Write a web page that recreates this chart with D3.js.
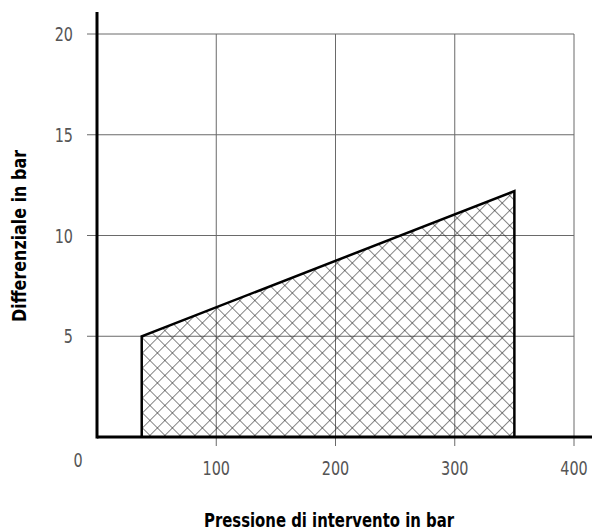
<!DOCTYPE html>
<html><head><meta charset="utf-8">
<script src="https://cdn.jsdelivr.net/npm/d3@7"></script>
<style>body{margin:0;background:#fff}svg{display:block}</style>
</head><body>
<script>
const xTicks = [100, 200, 300, 400];
const yTicks = [5, 10, 15, 20];
const areaX = [37.5, 350];
const areaLow = [5, 12.2];
const xTitle = "Pressione di intervento in bar";
const yTitle = "Differenziale in bar";

const W = 592, H = 532;
const x = d3.scaleLinear().domain([0, 400]).range([97, 574]);
const y = d3.scaleLinear().domain([0, 20]).range([437, 34]);
const svg = d3.select("body").append("svg").attr("width", W).attr("height", H);

const defs = svg.append("defs");
const pat = defs.append("pattern").attr("id", "hatch").attr("patternUnits", "userSpaceOnUse")
  .attr("width", 10.6).attr("height", 10.6).attr("patternTransform", "rotate(45)");
pat.append("line").attr("x1", 0).attr("y1", 0).attr("x2", 0).attr("y2", 10.6).attr("stroke", "#222").attr("stroke-width", 1.1);
pat.append("line").attr("x1", 0).attr("y1", 0).attr("x2", 10.6).attr("y2", 0).attr("stroke", "#222").attr("stroke-width", 1.1);

const font = "'DejaVu Sans Condensed', 'DejaVu Sans', sans-serif";

// gridlines
svg.append("g").selectAll("line").data(yTicks).join("line")
  .attr("x1", 87).attr("x2", x(400)).attr("y1", d => y(d)).attr("y2", d => y(d))
  .attr("stroke", "#6a6a6a").attr("stroke-width", 1);
svg.append("g").selectAll("line").data(xTicks).join("line")
  .attr("x1", d => x(d)).attr("x2", d => x(d)).attr("y1", y(20)).attr("y2", 446)
  .attr("stroke", "#6a6a6a").attr("stroke-width", 1);

// hatched area
const pts = [[areaX[0], 0], [areaX[0], areaLow[0]], [areaX[1], areaLow[1]], [areaX[1], 0]];
svg.append("path").attr("d", d3.line().x(d => x(d[0])).y(d => y(d[1]))(pts))
  .attr("fill", "url(#hatch)").attr("stroke", "#000").attr("stroke-width", 2.5).attr("stroke-linejoin", "miter");

// axes
svg.append("line").attr("x1", x(0)).attr("x2", W).attr("y1", y(0)).attr("y2", y(0)).attr("stroke", "#000").attr("stroke-width", 3);
svg.append("line").attr("x1", x(0)).attr("x2", x(0)).attr("y1", 12).attr("y2", y(0) + 1.5).attr("stroke", "#000").attr("stroke-width", 3);

// tick labels (condensed look via horizontal scale)
const sx = 0.8;
svg.append("g").selectAll("text").data(yTicks).join("text")
  .attr("transform", d => `translate(73,${y(d)}) scale(${sx},1)`).attr("dy", "0.36em").attr("text-anchor", "end")
  .attr("font-family", font).attr("font-size", 20).attr("fill", "#555").text(d => d);
svg.append("g").selectAll("text").data(xTicks).join("text")
  .attr("transform", d => `translate(${x(d)},468) scale(${sx},1)`).attr("dy", "0.36em").attr("text-anchor", "middle")
  .attr("font-family", font).attr("font-size", 20).attr("fill", "#555").text(d => d);
svg.append("text").attr("transform", `translate(78,460) scale(${sx},1)`).attr("dy", "0.36em").attr("text-anchor", "middle")
  .attr("font-family", font).attr("font-size", 20).attr("fill", "#555").text(0);

// titles
svg.append("text").attr("x", 329).attr("y", 527).attr("text-anchor", "middle")
  .attr("font-family", font).attr("font-weight", "bold").attr("font-size", 20).attr("fill", "#000")
  .attr("textLength", 250).attr("lengthAdjust", "spacingAndGlyphs").text(xTitle);
svg.append("text").attr("transform", "translate(26,236) rotate(-90)").attr("text-anchor", "middle")
  .attr("font-family", font).attr("font-weight", "bold").attr("font-size", 20).attr("fill", "#000")
  .attr("textLength", 172).attr("lengthAdjust", "spacingAndGlyphs").text(yTitle);
</script>
</body></html>
